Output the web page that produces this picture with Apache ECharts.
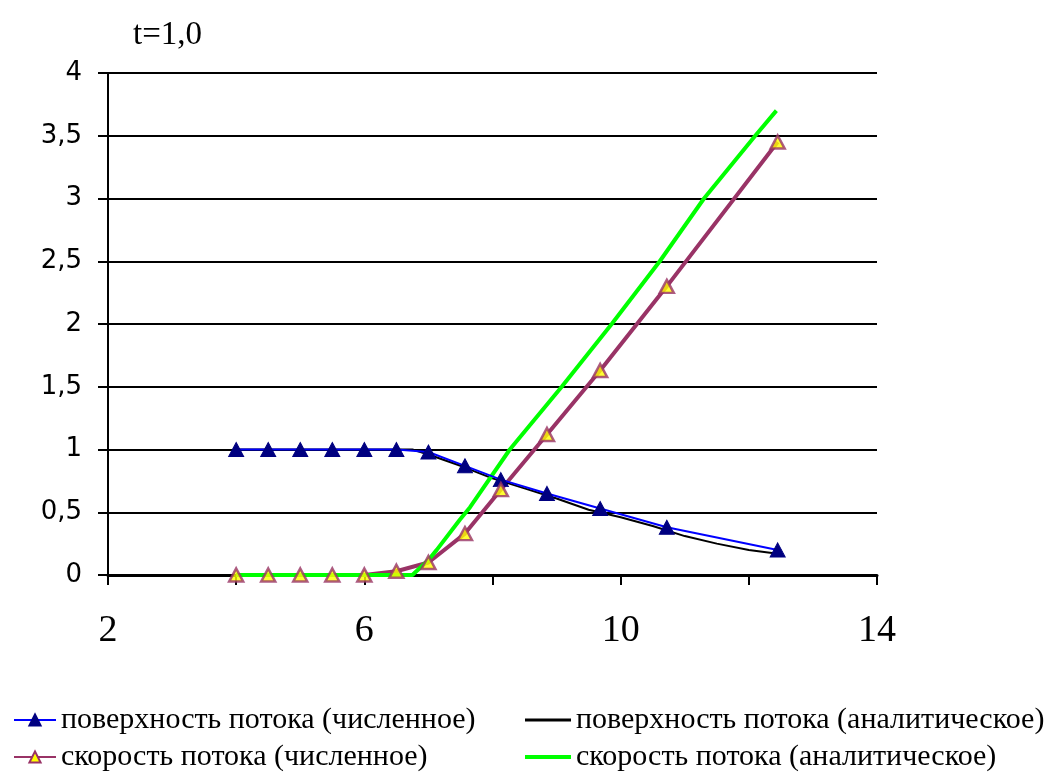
<!DOCTYPE html>
<html>
<head>
<meta charset="utf-8">
<script src="https://cdn.jsdelivr.net/npm/echarts@6/dist/echarts.min.js"></script>
<style>
  html, body { margin: 0; padding: 0; background: #ffffff; }
  #chart { width: 1059px; height: 780px; }
</style>
</head>
<body>
<div id="chart"></div>
<script>
// Dam-break flow at t = 1.0: numerical vs analytical solution
const titleText = 't=1,0';
const xLabelsShown = [2, 6, 10, 14];

const nameSurfNum = 'поверхность потока (численное)';
const nameSurfAn  = 'поверхность потока (аналитическое)';
const nameVelNum  = 'скорость потока (численное)';
const nameVelAn   = 'скорость потока (аналитическое)';

// numerical solution (grid nodes)
const numX        = [4, 4.5, 5, 5.5, 6, 6.5, 7, 7.57, 8.13, 8.85, 9.68, 10.72, 12.45];
const numSurface  = [1, 1, 1, 1, 1, 1, 0.98, 0.87, 0.76, 0.65, 0.53, 0.38, 0.2];
const numVelocity = [0, 0, 0, 0, 0, 0.03, 0.1, 0.33, 0.68, 1.12, 1.63, 2.3, 3.45];

// analytical solution
const anSurfaceX  = [4, 6.75, 7, 7.5, 8, 8.5, 9, 9.5, 10, 10.5, 11, 11.5, 12, 12.45];
const anSurface   = [1, 1, 0.96, 0.87, 0.77, 0.69, 0.61, 0.52, 0.46, 0.39, 0.31, 0.25, 0.2, 0.17];
const anVelocityX = [4, 6.75, 7, 7.13, 7.49, 7.65, 8.27, 9.08, 9.86, 10.61, 11.3, 12.1, 12.43];
const anVelocity  = [0, 0, 0.12, 0.2, 0.44, 0.54, 1.0, 1.5, 2.0, 2.5, 3.0, 3.5, 3.7];

const pairs = (xs, ys) => xs.map((x, i) => [x, ys[i]]);

const velMarkerStyle = { color: '#ffff00', borderColor: '#993366', borderWidth: 2.5 };
const surfMarkerStyle = { color: '#000080', borderColor: '#000080', borderWidth: 1 };

const chart = echarts.init(document.getElementById('chart'), null, { renderer: 'canvas' });

const legendText = { fontFamily: 'Liberation Serif', fontSize: 30, color: '#000', lineHeight: 30 };

chart.setOption({
  backgroundColor: '#ffffff',
  animation: false,
  title: {
    text: titleText,
    left: 128, top: 14,
    textStyle: { fontFamily: 'Liberation Serif', fontSize: 33, fontWeight: 'normal', color: '#000' }
  },
  grid: { left: 108, right: 182, top: 73, bottom: 205, containLabel: false },
  xAxis: {
    type: 'value', min: 2, max: 14, interval: 2,
    axisLine: { show: true, onZero: false, lineStyle: { color: '#000', width: 3 } },
    axisTick: { show: true, length: 10, lineStyle: { color: '#000', width: 2 } },
    splitLine: { show: false },
    axisLabel: {
      margin: 37,
      fontFamily: 'Liberation Serif', fontSize: 38, color: '#000',
      formatter: v => (xLabelsShown.indexOf(v) >= 0 ? String(v) : '')
    }
  },
  yAxis: {
    type: 'value', min: 0, max: 4, interval: 0.5,
    axisLine: { show: true, lineStyle: { color: '#000', width: 2 } },
    axisTick: { show: true, length: 10, lineStyle: { color: '#000', width: 2 } },
    splitLine: { show: true, lineStyle: { color: '#000', width: 2 } },
    axisLabel: {
      margin: 26,
      fontFamily: 'DejaVu Sans', fontSize: 26, color: '#000',
      formatter: v => String(v).replace('.', ',')
    }
  },
  legend: [
    {
      orient: 'vertical', left: 13, top: 705, padding: 0,
      itemWidth: 42, itemHeight: 14, itemGap: 7,
      textStyle: legendText,
      data: [nameSurfNum, nameVelNum]
    },
    {
      orient: 'vertical', left: 525, top: 705, padding: 0,
      itemWidth: 46, itemHeight: 14, itemGap: 7,
      textStyle: legendText,
      data: [
        { name: nameSurfAn, icon: 'path://M0,0H46V3H0Z' },
        { name: nameVelAn, icon: 'path://M0,0H46V4H0Z' }
      ]
    }
  ],
  series: [
    {
      // numerical velocity: line below the analytical curve, markers drawn separately on top
      name: nameVelNum, type: 'line', zlevel: 1, z: 1, clip: false,
      data: pairs(numX, numVelocity),
      symbol: 'triangle', showSymbol: false,
      lineStyle: { color: '#993366', width: 4 },
      itemStyle: velMarkerStyle
    },
    {
      name: nameSurfAn, type: 'line', zlevel: 1, z: 2, clip: false,
      data: pairs(anSurfaceX, anSurface),
      symbol: 'none',
      lineStyle: { color: '#000000', width: 2 },
      itemStyle: { color: '#000000' }
    },
    {
      name: nameVelAn, type: 'line', zlevel: 1, z: 3, clip: false,
      data: pairs(anVelocityX, anVelocity),
      symbol: 'none',
      lineStyle: { color: '#00ff00', width: 4 },
      itemStyle: { color: '#00ff00' }
    },
    {
      name: nameSurfNum, type: 'line', zlevel: 1, z: 4, clip: false,
      data: pairs(numX, numSurface),
      symbol: 'triangle', symbolSize: [15, 14], showAllSymbol: true,
      lineStyle: { color: '#0000ff', width: 2 },
      itemStyle: surfMarkerStyle
    },
    {
      // markers of the numerical velocity
      name: 'velocity nodes', type: 'scatter', zlevel: 1, z: 5, clip: false,
      data: pairs(numX, numVelocity),
      symbol: 'triangle', symbolSize: [14, 13],
      itemStyle: velMarkerStyle
    }
  ]
});
</script>
</body>
</html>
